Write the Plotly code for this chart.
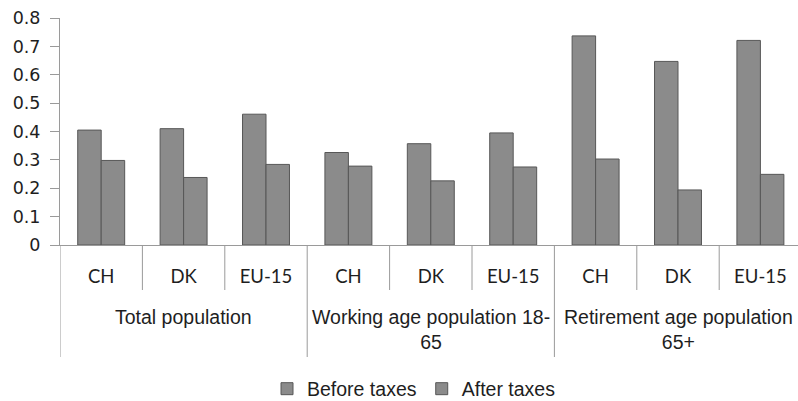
import plotly.graph_objects as go

# Data
groups = ["Total population", "Working age population 18-<br>65", "Retirement age population<br>65+"]
countries = ["CH", "DK", "EU-15"]
before_taxes = [0.405, 0.41, 0.461, 0.326, 0.357, 0.395, 0.737, 0.647, 0.721]
after_taxes = [0.298, 0.238, 0.284, 0.278, 0.226, 0.275, 0.303, 0.194, 0.249]
y_ticks = [0, 0.1, 0.2, 0.3, 0.4, 0.5, 0.6, 0.7, 0.8]

n_groups = len(groups)
n_c = len(countries)
positions = list(range(n_groups * n_c))
tick_text = countries * n_groups

FILL = "#8b8b8b"
EDGE = "#575757"
AXIS = "#9a9a9a"
TEXT = "#1e1e1e"

W, H = 798, 401

fig = go.Figure()
fig.add_trace(go.Bar(x=positions, y=before_taxes, name="Before taxes",
                     marker=dict(color=FILL, line=dict(color=EDGE, width=1))))
fig.add_trace(go.Bar(x=positions, y=after_taxes, name="After taxes",
                     marker=dict(color=FILL, line=dict(color=EDGE, width=1))))

# plot-area geometry (pixels) used to place the divider lines below the axis
plot_left, plot_top, plot_bottom = 60, 18, 245
plot_h = plot_bottom - plot_top
cat_px = 82.4

def paper_y(px):
    return (plot_bottom - px) / plot_h

shapes = []
for k in range(n_groups * n_c + 1):
    xpos = k - 0.5
    is_group_edge = (k % n_c == 0)
    bottom_px = 357 if is_group_edge else 290
    shapes.append(dict(type="line", xref="x", yref="paper",
                       x0=xpos, x1=xpos, y0=0, y1=paper_y(bottom_px),
                       line=dict(color=AXIS, width=1)))

annotations = []
for g, label in enumerate(groups):
    annotations.append(dict(text=label, xref="x", yref="paper",
                            x=g * n_c + (n_c - 1) / 2, y=paper_y(304),
                            xanchor="center", yanchor="top", showarrow=False,
                            font=dict(family="Liberation Sans", size=19.5, color=TEXT)))

fig.update_layout(
    width=W, height=H,
    margin=dict(l=plot_left, r=0, t=plot_top, b=H - plot_bottom),
    plot_bgcolor="white", paper_bgcolor="white",
    barmode="group", bargap=0.43, bargroupgap=0,
    showlegend=True,
    legend=dict(orientation="h", xref="container", yref="container",
                x=267 / W, xanchor="left",
                y=(H - 389) / H, yanchor="middle",
                font=dict(family="Liberation Sans", size=19.5, color=TEXT),
                traceorder="normal", itemwidth=30),
    shapes=shapes,
    annotations=annotations,
)
fig.update_xaxes(range=[-0.5, -0.5 + (W - plot_left) / cat_px], tickmode="array",
                 tickvals=positions, ticktext=tick_text, ticks="",
                 showline=True, linecolor=AXIS, linewidth=1,
                 showgrid=False, zeroline=False, ticklabelstandoff=15,
                 tickfont=dict(family="Lato", size=18.5, color=TEXT))
fig.update_yaxes(range=[0, 0.8], tickmode="array", tickvals=y_ticks,
                 ticktext=[("%g" % v) for v in y_ticks],
                 ticks="outside", ticklen=9, tickcolor=AXIS,
                 showline=True, linecolor=AXIS, linewidth=1,
                 showgrid=False, zeroline=False, ticklabelstandoff=6,
                 tickfont=dict(family="DejaVu Sans", size=17.5, color=TEXT))

fig.write_html("out.html")
